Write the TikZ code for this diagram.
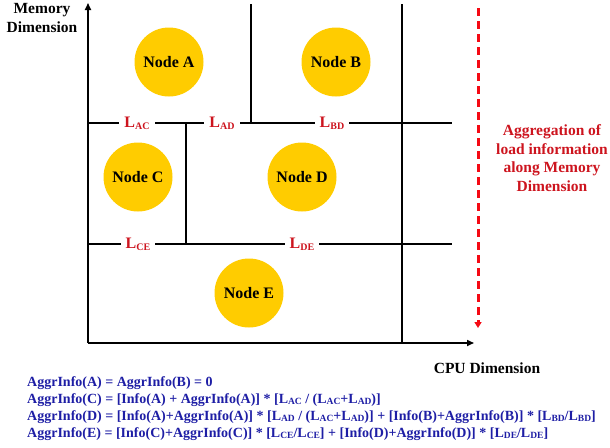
\documentclass[tikz,border=0pt]{standalone}
\usepackage{fontspec}
\setmainfont{Liberation Serif}
\usetikzlibrary{arrows.meta}
\definecolor{lred}{RGB}{205,20,30}
\definecolor{dashred}{RGB}{245,10,20}
\definecolor{fblue}{RGB}{30,30,165}
\definecolor{nodeyel}{RGB}{255,204,0}
\newcommand{\lsub}[1]{\raisebox{-0.3ex}{\fontsize{10}{10}\selectfont #1}}
\newcommand{\fsub}[1]{\raisebox{-0.25ex}{\fontsize{9.5}{9.5}\selectfont #1}}
\begin{document}
\begin{tikzpicture}[x=1pt,y=-1pt,
  circ/.style={circle, fill=nodeyel, minimum size=69pt, inner sep=0pt, font=\fontsize{16}{18}\bfseries\selectfont},
  lab/.style={fill=white, text=lred, inner sep=5pt, font=\fontsize{16}{18}\bfseries\selectfont},
  axisline/.style={line width=1.6pt, -{Triangle[length=7pt,width=6pt]}},
  gridline/.style={line width=1.2pt},
  formula/.style={anchor=base west, text=fblue, inner sep=0pt, font=\fontsize{14}{16}\bfseries\selectfont},
  title/.style={align=center, font=\fontsize{15.5}{18.5}\bfseries\selectfont}]
\useasboundingbox (0,0) rectangle (610,447);
% coordinates
\coordinate (O) at (88,343);
\coordinate (ytop) at (88,3);
\coordinate (xend) at (474,343);
\coordinate (h1a) at (88,123); \coordinate (h1b) at (452,123);
\coordinate (h2a) at (88,244); \coordinate (h2b) at (452,244);
\coordinate (v1a) at (251,4); \coordinate (v1b) at (251,123);
\coordinate (v2a) at (186,123); \coordinate (v2b) at (186,244);
\coordinate (v3a) at (402,4); \coordinate (v3b) at (402,343);
% grid lines
\draw[gridline] (h1a) -- (h1b);
\draw[gridline] (h2a) -- (h2b);
\draw[gridline] (v1a) -- (v1b);
\draw[gridline] (v2a) -- (v2b);
\draw[gridline] (v3a) -- (v3b);
% axes
\draw[axisline] (O) -- (ytop);
\draw[axisline] (O) -- (xend);
% link labels
\node[lab] (lac) at (137,123) {L\lsub{AC}};
\node[lab] (lad) at (222,123) {L\lsub{AD}};
\node[lab] (lbd) at (332,123) {L\lsub{BD}};
\node[lab] (lce) at (138,244) {L\lsub{CE}};
\node[lab] (lde) at (302,244) {L\lsub{DE}};
% nodes
\node[circ] (A) at (169,62) {Node A};
\node[circ] (B) at (336,62) {Node B};
\node[circ] (C) at (138,177) {Node C};
\node[circ] (D) at (302,177) {Node D};
\node[circ] (E) at (249,293) {Node E};
% aggregation arrow
\coordinate (ra) at (478,8);
\coordinate (rb) at (478,328);
\draw[dashred, line width=3pt, dash pattern=on 8pt off 5pt, -{Triangle[length=6pt,width=7pt]}] (ra) -- (rb);
\node[title, text=lred] (agg) at (552,158) {Aggregation of\\load information\\along Memory\\Dimension};
% axis titles
\node[title] (mem) at (42,18) {Memory\\Dimension};
\node[title] (cpu) at (487,368) {CPU Dimension};
% formulas
\node[formula] (f1) at (27,386) {AggrInfo(A) = AggrInfo(B) = 0};
\node[formula] (f2) at (27,403) {AggrInfo(C) = [Info(A) + AggrInfo(A)] * [L\fsub{AC} / (L\fsub{AC}+L\fsub{AD})]};
\node[formula] (f3) at (27,420) {AggrInfo(D) = [Info(A)+AggrInfo(A)] * [L\fsub{AD} / (L\fsub{AC}+L\fsub{AD})] + [Info(B)+AggrInfo(B)] * [L\fsub{BD}/L\fsub{BD}]};
\node[formula] (f4) at (27,437) {AggrInfo(E) = [Info(C)+AggrInfo(C)] * [L\fsub{CE}/L\fsub{CE}] + [Info(D)+AggrInfo(D)] * [L\fsub{DE}/L\fsub{DE}]};
\end{tikzpicture}
\end{document}
